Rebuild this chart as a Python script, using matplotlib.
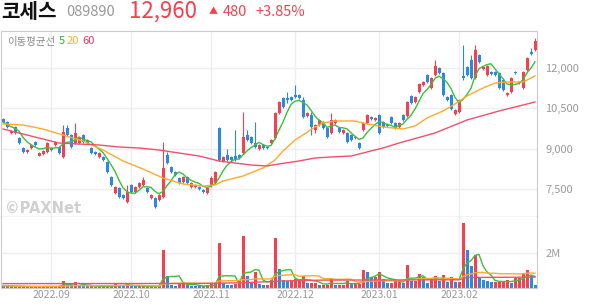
import matplotlib
matplotlib.use('Agg')
import matplotlib.pyplot as plt
import numpy as np
import pandas as pd

plt.rcParams['font.family'] = ['Noto Sans CJK KR', 'DejaVu Sans']

# daily candles (KRW), one per trading day
opens = [
    10100, 9990, 9580, 9800, 9400, 9030, 8880, 9030, 9250, 8740,
    8810, 8880, 9030, 9140, 9070, 8700, 9770, 9510, 9210, 9210,
    9510, 9330, 9030, 8880, 8700, 8700, 8510, 7960, 7370, 7550,
    7300, 7040, 7670, 7410, 7590, 7670, 7550, 7190, 7190, 7110,
    7220, 8770, 8330, 8150, 7920, 7780, 7960, 7590, 7590, 7590,
    7480, 7370, 7630, 7740, 9770, 8550, 8770, 8700, 8730, 8770,
    8850, 9510, 9440, 9210, 8990, 9140, 9070, 9210, 9400, 10320,
    10880, 10880, 10910, 10990, 10990, 10800, 10210, 10250, 9690, 9880,
    9990, 9770, 9580, 9950, 9770, 9580, 9580, 9510, 9400, 9210,
    9690, 9950, 10170, 10060, 10250, 9990, 9920, 10170, 9950, 9810,
    10250, 10210, 10950, 10730, 11100, 11350, 11720, 11240, 11720, 11980,
    11800, 10910, 10990, 10280, 10360, 11690, 12020, 12280, 11610, 12460,
    11950, 11720, 11830, 11830, 11800, 11540, 10990, 11100, 11830, 11470,
    11240, 11910, 12570, 12650]
closes = [
    9990, 9810, 9650, 9580, 9210, 8880, 8960, 9140, 9140, 8850,
    8920, 9210, 8960, 9250, 8850, 9620, 9510, 9070, 9580, 9400,
    9250, 9210, 8850, 8810, 8850, 8590, 8150, 7670, 7590, 7220,
    7190, 7410, 7410, 7590, 7740, 7850, 7410, 7300, 6850, 7300,
    8290, 8480, 8150, 8030, 7740, 7960, 7740, 7740, 7670, 7520,
    7410, 7550, 7920, 8150, 8590, 8700, 8590, 8590, 8590, 8660,
    9440, 9330, 9210, 9070, 9140, 9030, 9030, 9330, 10320, 10730,
    10540, 10800, 10800, 10910, 10880, 10170, 10320, 9810, 9880, 10060,
    9770, 9440, 10060, 10060, 9620, 9690, 9250, 9330, 9440, 9030,
    9950, 10250, 10100, 10140, 9580, 9810, 9840, 9950, 9770, 9950,
    10060, 10730, 10690, 10910, 11390, 11470, 11470, 11610, 12060, 11800,
    10990, 10800, 10470, 10430, 10800, 11610, 11720, 11610, 12650, 12200,
    12020, 12060, 11760, 11720, 11240, 11170, 11060, 11610, 11800, 11430,
    11830, 12350, 12480, 12960]
highs = [
    10140, 10030, 9680, 9850, 9430, 9060, 8990, 9170, 9290, 8870,
    8950, 9250, 9060, 9280, 9110, 9880, 9880, 9540, 9950, 9440,
    9550, 9360, 9060, 8910, 8880, 8730, 8550, 7990, 7630, 7590,
    7330, 7670, 7700, 7630, 7780, 7960, 7590, 7330, 7220, 7330,
    9250, 8880, 8370, 8180, 7960, 8000, 8000, 7780, 7700, 7630,
    7520, 7590, 8000, 8180, 9800, 8730, 8990, 8730, 9690, 8810,
    10360, 9690, 9470, 9990, 9180, 9180, 9100, 9360, 10360, 10760,
    10920, 11100, 10950, 11350, 11030, 10910, 10360, 10360, 9920, 10100,
    10030, 9800, 10320, 10100, 9800, 9730, 9620, 9550, 9470, 9250,
    9990, 10290, 10210, 10170, 10290, 10030, 9950, 10210, 9990, 9990,
    10290, 10760, 10990, 10950, 11430, 11500, 11760, 11650, 12280, 12020,
    11830, 10950, 11030, 10470, 10840, 12830, 12060, 12460, 12830, 12500,
    12060, 12090, 11870, 11870, 11830, 11580, 11100, 11650, 11870, 11500,
    11870, 12390, 12720, 13090]
lows = [
    9960, 9780, 9560, 9550, 9180, 8850, 8860, 9000, 9110, 8720,
    8790, 8850, 8930, 9110, 8820, 8660, 9480, 9040, 9180, 9180,
    9220, 9180, 8820, 8780, 8670, 8560, 8110, 7640, 7340, 7190,
    7150, 7000, 7370, 7370, 7560, 7630, 7370, 7150, 6820, 7080,
    7180, 8440, 8110, 8000, 7700, 7740, 7700, 7550, 7550, 7480,
    7370, 7330, 7590, 7700, 8550, 8510, 8550, 8550, 8550, 8620,
    8810, 9290, 9180, 9030, 8960, 8990, 8990, 9180, 9360, 10280,
    10500, 10690, 10760, 10880, 10840, 10140, 10170, 9510, 9580, 9840,
    9730, 9400, 9550, 9920, 9580, 9550, 9210, 9290, 9360, 8990,
    9650, 9920, 10060, 10030, 9550, 9770, 9800, 9920, 9730, 9770,
    10030, 10170, 10650, 10690, 11060, 11320, 11430, 11210, 11690, 11760,
    10950, 10760, 10430, 10250, 10320, 11540, 11690, 11580, 11580, 12170,
    11910, 11690, 11720, 11690, 11210, 11130, 10950, 11060, 11760, 11390,
    11210, 11870, 12460, 12600]
# volume in thousands of shares
volumes = [
    130, 130, 90, 80, 90, 80, 70, 80, 90, 70,
    80, 110, 80, 90, 90, 400, 270, 150, 330, 170,
    110, 90, 100, 80, 90, 80, 120, 150, 230, 110,
    90, 230, 120, 90, 100, 110, 90, 80, 120, 100,
    2160, 710, 190, 120, 290, 290, 150, 120, 110, 100,
    90, 150, 200, 260, 2550, 300, 190, 180, 200, 390,
    2970, 710, 270, 900, 240, 150, 150, 450, 2840, 1100,
    430, 400, 430, 490, 490, 710, 270, 270, 270, 190,
    190, 190, 520, 190, 190, 190, 400, 230, 230, 230,
    1000, 900, 620, 620, 900, 500, 300, 300, 400, 400,
    300, 1300, 400, 400, 800, 600, 300, 500, 700, 400,
    750, 350, 600, 350, 350, 3700, 2160, 1230, 1870, 620,
    450, 400, 350, 350, 350, 400, 450, 300, 550, 550,
    860, 1040, 700, 170]

# moving averages (20 and 60 day need history before the window)
ma20_idx = [0, 5, 10, 15, 20, 25, 30, 35, 40, 45, 50, 53, 55, 60, 65, 68, 70, 73,
            75, 78, 80, 83, 88, 90, 95, 100, 103, 106, 110, 113, 116, 120, 123, 126, 130, 133]
ma20_val = [9915, 9879, 9731, 9510, 9288, 8956, 8550, 8255, 7923, 7701, 7628, 7665,
            7812, 7997, 8292, 8587, 8919, 9325, 9510, 9805, 9952, 10026, 10026, 9952,
            9805, 9731, 9842, 10137, 10395, 10653, 10949, 11244, 11428, 11465, 11465, 11687]
ma60_idx = [0, 4, 9, 14, 19, 24, 29, 34, 39, 44, 49, 54, 58, 62, 66, 69, 74, 78,
            82, 87, 91, 95, 99, 108, 116, 124, 133]
ma60_val = [9731, 9583, 9399, 9214, 9177, 9141, 9067, 9030, 8956, 8845, 8735, 8550,
            8476, 8403, 8366, 8440, 8550, 8661, 8698, 8735, 8882, 9030, 9214, 9583,
            10063, 10395, 10727]
vma60_idx = [0, 50, 60, 70, 80, 100, 114, 116, 133]
vma60_val = [250, 260, 300, 400, 450, 460, 470, 600, 620]

month_idx = [12, 32, 52, 73, 94, 114]
month_lbl = ['2022.09', '2022.10', '2022.11', '2022.12', '2023.01', '2023.02']
price_ticks = [7500, 9000, 10500, 12000]

RED = '#f5414f'
BLUE = '#2c87e6'
GREEN = '#3cbf3c'
ORANGE = '#ffa92e'
PINK = '#f2506a'
GRID = '#eeeeee'
LBL = '#999999'

W, H = 594, 304
fig = plt.figure(figsize=(W / 100, H / 100), dpi=100)

def box(x0, y0, x1, y1):
    # pixel rectangle -> figure fraction
    return [x0 / W, 1 - y1 / H, (x1 - x0) / W, (y1 - y0) / H]

ax = fig.add_axes(box(1, 31, 537, 217))
axv = fig.add_axes(box(1, 217, 537, 288), sharex=ax)

idx = np.arange(len(closes))
o = np.array(opens)
c = np.array(closes)
h = np.array(highs)
l = np.array(lows)
col = np.where(c >= o, RED, BLUE)

# candles
ax.vlines(idx, l, h, colors=col, linewidth=0.8, zorder=2)
ax.bar(idx, np.maximum(np.abs(c - o), 25), bottom=np.minimum(o, c),
       width=0.75, color=col, linewidth=0, zorder=2)

ma5 = pd.Series(closes).rolling(5, min_periods=1).mean()
ax.plot(idx, ma5, color=GREEN, lw=1, zorder=3)
ax.plot(ma20_idx, ma20_val, color=ORANGE, lw=1, zorder=3)
ax.plot(ma60_idx, ma60_val, color=PINK, lw=1, zorder=3)

ax.set_xlim(-0.5, len(closes) - 0.5)
ax.set_ylim(6484, 13347)
ax.set_yticks(price_ticks)
ax.set_yticklabels([f'{v:,}' for v in price_ticks])
ax.set_xticks(month_idx)
ax.grid(True, color=GRID, lw=1, zorder=0)
ax.yaxis.tick_right()
ax.tick_params(axis='y', length=0, pad=6, labelsize=8, labelcolor=LBL)
ax.tick_params(axis='x', length=0, labelbottom=False)
for s in ['top', 'left', 'right']:
    ax.spines[s].set_color('#cccccc')
ax.spines['bottom'].set_color('#333333')

# watermark
ax.text(4 / 536, 4 / 186, '©PAXNet', transform=ax.transAxes, fontsize=10.5,
        fontweight='bold', color='#d0d0d0', family=['DejaVu Sans'], zorder=1)

# volume panel
vol = np.array(volumes) * 1000
vcol = [BLUE] + [RED if vol[i] >= vol[i - 1] else BLUE for i in range(1, len(vol))]
axv.bar(idx, vol, width=0.75, color=vcol, linewidth=0, zorder=2)
vs = pd.Series(vol)
axv.plot(idx, vs.rolling(5, min_periods=1).mean(), color=GREEN, lw=1, zorder=3)
axv.plot(idx, vs.rolling(20, min_periods=1).mean(), color=ORANGE, lw=1, zorder=3)
axv.plot(vma60_idx, np.array(vma60_val) * 1000, color=PINK, lw=1, zorder=3)
axv.set_ylim(0, 4.05e6)
axv.set_yticks([2e6])
axv.set_yticklabels(['2M'])
axv.yaxis.tick_right()
axv.set_xticks(month_idx)
axv.set_xticklabels(month_lbl)
axv.grid(True, color=GRID, lw=1, zorder=0)
axv.tick_params(axis='y', length=0, pad=6, labelsize=8, labelcolor=LBL)
axv.tick_params(axis='x', length=0, pad=1.5, labelsize=7.5, labelcolor=LBL)
axv.spines['top'].set_visible(False)
for s in ['left', 'right', 'bottom']:
    axv.spines[s].set_color('#cccccc')

# header
def px(x, y):
    return x / W, 1 - y / H

fig.text(*px(1, 11), '코세스', fontsize=14.5, fontweight='bold', color='#111111', va='center')
fig.text(*px(66, 12), '089890', fontsize=10.5, color='#999999', va='center')
fig.text(*px(129, 11), '12,960', fontsize=16, color=RED, va='center')
fig.text(*px(209, 12), '▲', fontsize=6.5, color=RED, va='center')
fig.text(*px(223, 12), '480', fontsize=10.5, color=RED, va='center')
fig.text(*px(255, 12), '+3.85%', fontsize=10.5, color=RED, va='center')

fig.text(*px(7, 41.5), '이동평균선', fontsize=7.5, color='#888888', va='center')
fig.text(*px(59, 41.5), '5', fontsize=8, color='#2db52d', va='center')
fig.text(*px(67, 41.5), '20', fontsize=8, color=ORANGE, va='center')
fig.text(*px(82, 41.5), '60', fontsize=8, color='#ee2f6a', va='center')

fig.savefig('out.png', dpi=100)
